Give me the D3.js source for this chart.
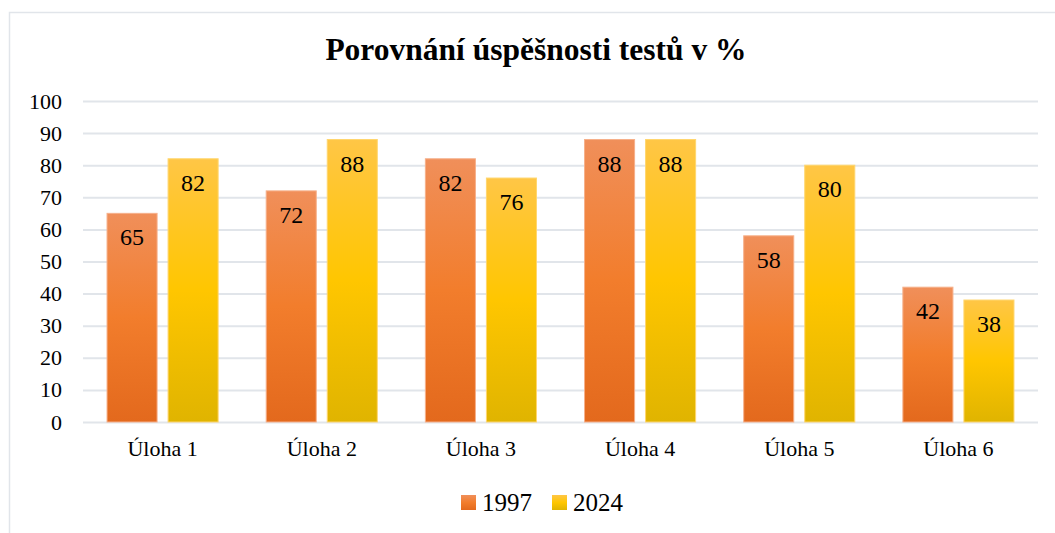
<!DOCTYPE html>
<html>
<head>
<meta charset="utf-8">
<script src="https://cdn.jsdelivr.net/npm/d3@7"></script>
<style>
  html, body { margin: 0; padding: 0; background: #fff; }
  svg { display: block; }
</style>
</head>
<body>
<div id="chart"></div>
<script>
// chart data
const categories = ["Úloha 1", "Úloha 2", "Úloha 3", "Úloha 4", "Úloha 5", "Úloha 6"];
const seriesNames = ["1997", "2024"];
const values1997 = [65, 72, 82, 88, 58, 42];
const values2024 = [82, 88, 76, 88, 80, 38];
const yTicks = [0, 10, 20, 30, 40, 50, 60, 70, 80, 90, 100];

const FONT = '"Liberation Serif"';
const W = 1055, H = 533;
const margin = { top: 101, right: 17, bottom: 111, left: 83 };
const width = W - margin.left - margin.right;
const height = H - margin.top - margin.bottom;

const rows = categories.map((c, i) => ({ cat: c, vals: [values1997[i], values2024[i]] }));

const svg = d3.select("#chart").append("svg").attr("width", W).attr("height", H);

// gradients for the bars
const defs = svg.append("defs");
const grads = [
  { id: "g1997", stops: [["0%", "#F08F5A"], ["50%", "#F27D2C"], ["100%", "#E3691D"]] },
  { id: "g2024", stops: [["0%", "#FFC646"], ["50%", "#FFC600"], ["100%", "#E0B400"]] }
];
grads.forEach(g => {
  const lg = defs.append("linearGradient").attr("id", g.id)
    .attr("x1", 0).attr("y1", 0).attr("x2", 0).attr("y2", 1);
  g.stops.forEach(s => lg.append("stop").attr("offset", s[0]).attr("stop-color", s[1]));
});

// outer chart border
svg.append("rect")
  .attr("x", 9.5).attr("y", 12.5).attr("width", W + 20).attr("height", H + 20)
  .attr("fill", "none").attr("stroke", "#E1E5EA").attr("stroke-width", 1.5);

svg.append("text")
  .attr("x", 536).attr("y", 60)
  .attr("text-anchor", "middle")
  .style("font-family", FONT).style("font-size", "31.5px").style("font-weight", "bold")
  .text("Porovnání úspěšnosti testů v %");

const plot = svg.append("g").attr("transform", `translate(${margin.left},${margin.top})`);

const x0 = d3.scaleBand().domain(categories).range([0, width]).paddingInner(0.302).paddingOuter(0.151);
const x1 = d3.scaleBand().domain(seriesNames).range([0, x0.bandwidth()]).paddingInner(0.18);
const y = d3.scaleLinear().domain([0, 100]).range([height, 0]);

// gridlines + y labels
const yAxis = plot.append("g")
  .call(d3.axisLeft(y).tickValues(yTicks).tickSize(-width).tickPadding(21));
yAxis.select(".domain").remove();
yAxis.selectAll(".tick line").attr("stroke", "#E1E5EA").attr("stroke-width", 2);
yAxis.selectAll(".tick text")
  .style("font-family", FONT).style("font-size", "22px").attr("fill", "#000");

// bars
const groups = plot.selectAll(".grp").data(rows).join("g")
  .attr("transform", d => `translate(${x0(d.cat)},0)`);

groups.selectAll("rect").data(d => d.vals.map((v, i) => ({ key: seriesNames[i], v })))
  .join("rect")
  .attr("x", d => x1(d.key))
  .attr("y", d => y(d.v))
  .attr("width", x1.bandwidth())
  .attr("height", d => height - y(d.v))
  .attr("fill", d => d.key === "1997" ? "url(#g1997)" : "url(#g2024)")
  .attr("stroke", d => d.key === "1997" ? "#F6B08A" : "#FFD66E")
  .attr("stroke-width", 1);

groups.selectAll("text.lbl").data(d => d.vals.map((v, i) => ({ key: seriesNames[i], v })))
  .join("text")
  .attr("class", "lbl")
  .attr("x", d => x1(d.key) + x1.bandwidth() / 2)
  .attr("y", d => y(d.v) + 32)
  .attr("text-anchor", "middle")
  .style("font-family", FONT).style("font-size", "24px")
  .text(d => d.v);

// category labels
const xAxis = plot.append("g").attr("transform", `translate(0,${height})`)
  .call(d3.axisBottom(x0).tickSize(0).tickPadding(18));
xAxis.select(".domain").remove();
xAxis.selectAll(".tick text")
  .style("font-family", FONT).style("font-size", "22px").attr("fill", "#000");

// legend
const legend = svg.append("g").attr("transform", "translate(461,495)");
const legItems = [
  { name: "1997", fill: "url(#g1997)", dx: 0 },
  { name: "2024", fill: "url(#g2024)", dx: 91 }
];
legItems.forEach(it => {
  const g = legend.append("g").attr("transform", `translate(${it.dx},0)`);
  g.append("rect").attr("width", 15).attr("height", 15).attr("fill", it.fill);
  g.append("text").attr("x", 21).attr("y", 16)
    .style("font-family", FONT).style("font-size", "25px").text(it.name);
});
</script>
</body>
</html>
